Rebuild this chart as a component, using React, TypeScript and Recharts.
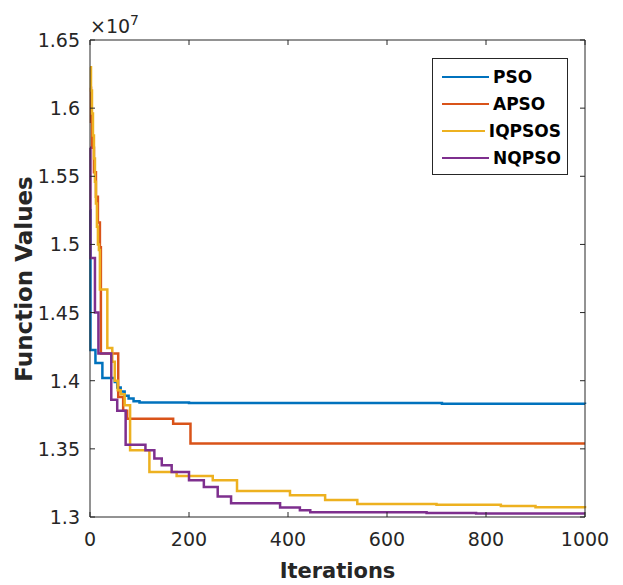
import { LineChart, Line, XAxis, YAxis, Legend } from "recharts";

// values are in units of 1e7
const PSO_ITER = [0, 1, 11, 25, 50, 55, 62, 70, 78, 88, 100, 200, 711, 1000];
const PSO_VAL = [1.525, 1.4225, 1.413, 1.402, 1.399, 1.395, 1.392, 1.389, 1.387, 1.385, 1.384, 1.3836, 1.3831, 1.383];

const APSO_ITER = [0, 2, 4, 8, 12, 16, 20, 22, 57, 67, 75, 168, 203, 1000];
const APSO_VAL = [1.615, 1.59, 1.571, 1.553, 1.535, 1.516, 1.498, 1.42, 1.388, 1.378, 1.372, 1.3685, 1.354, 1.354];

const IQPSOS_ITER = [0, 2, 4, 6, 8, 10, 12, 14, 16, 18, 20, 35, 45, 50, 56, 62, 70, 81, 120, 175, 248, 297, 404, 475, 540, 700, 830, 900, 1000];
const IQPSOS_VAL = [1.63, 1.613, 1.596, 1.58, 1.563, 1.546, 1.53, 1.513, 1.5, 1.496, 1.467, 1.424, 1.414, 1.4, 1.393, 1.39, 1.382, 1.349, 1.333, 1.330, 1.327, 1.319, 1.316, 1.3125, 1.3095, 1.309, 1.308, 1.3072, 1.3065];

const NQPSO_ITER = [0, 1, 10, 17, 43, 55, 72, 112, 130, 145, 165, 200, 230, 258, 285, 384, 424, 445, 680, 780, 1000];
const NQPSO_VAL = [1.571, 1.49, 1.45, 1.42, 1.386, 1.378, 1.353, 1.349, 1.343, 1.338, 1.333, 1.327, 1.322, 1.315, 1.31, 1.307, 1.305, 1.3035, 1.303, 1.3025, 1.3025];

const X_TICKS = [0, 200, 400, 600, 800, 1000];
const Y_TICKS = [1.3, 1.35, 1.4, 1.45, 1.5, 1.55, 1.6, 1.65];

const AXIS = "#262626";
const FONT = "'DejaVu Sans', sans-serif";

const toPoints = (iters: number[], vals: number[]) =>
  iters.map((x, i) => ({ x, y: vals[i] }));

// the last series is plotted against the top/right axes (same domains) so the box is drawn
const SERIES = [
  { name: "PSO", color: "#0072BD", data: toPoints(PSO_ITER, PSO_VAL), xId: 0, yId: 0 },
  { name: "APSO", color: "#D95319", data: toPoints(APSO_ITER, APSO_VAL), xId: 0, yId: 0 },
  { name: "IQPSOS", color: "#EDB120", data: toPoints(IQPSOS_ITER, IQPSOS_VAL), xId: 0, yId: 0 },
  { name: "NQPSO", color: "#7E2F8E", data: toPoints(NQPSO_ITER, NQPSO_VAL), xId: "top", yId: "right" },
];

const BottomTick = (props: any) => {
  const { x, y, payload } = props;
  return (
    <g>
      <line x1={x} x2={x} y1={y} y2={y - 5} stroke={AXIS} />
      <text x={x} y={y + 22} textAnchor="middle" dominantBaseline="central" fill={AXIS} fontSize={19} fontFamily={FONT}>
        {payload.value}
      </text>
    </g>
  );
};

const LeftTick = (props: any) => {
  const { x, y, payload } = props;
  return (
    <g>
      <line x1={x} x2={x + 5} y1={y} y2={y} stroke={AXIS} />
      <text x={x - 10} y={y} textAnchor="end" dominantBaseline="central" fill={AXIS} fontSize={19} fontFamily={FONT}>
        {payload.value}
      </text>
    </g>
  );
};

const TopTick = (props: any) => {
  const { x, y } = props;
  return <line x1={x} x2={x} y1={y} y2={y + 5} stroke={AXIS} />;
};

const RightTick = (props: any) => {
  const { x, y } = props;
  return <line x1={x} x2={x - 5} y1={y} y2={y} stroke={AXIS} />;
};

const LegendBox = () => (
  <div
    style={{
      border: `1px solid ${AXIS}`,
      background: "#fff",
      padding: "4px 6px 3px 9px",
      fontFamily: FONT,
      boxSizing: "border-box",
    }}
  >
    {SERIES.map((s) => (
      <div key={s.name} style={{ display: "flex", alignItems: "center", height: 27 }}>
        <span style={{ width: 47, height: 0, borderTop: `2.5px solid ${s.color}`, marginRight: 4 }} />
        <span style={{ fontWeight: 700, fontSize: 17, color: "#000" }}>{s.name}</span>
      </div>
    ))}
  </div>
);

export default function App() {
  return (
    <div style={{ width: 615, height: 577, fontFamily: FONT }}>
      <LineChart width={615} height={577} margin={{ top: 31, right: 37, bottom: 0, left: 0 }}>
        <XAxis
          dataKey="x"
          type="number"
          domain={[0, 1000]}
          ticks={X_TICKS}
          interval={0}
          height={68}
          tickSize={0}
          tickMargin={0}
          tick={<BottomTick />}
          stroke={AXIS}
          label={{
            content: () => (
              <text x={329.5} y={570} textAnchor="middle" fill={AXIS} fontSize={21} fontWeight={700} fontFamily={FONT}>
                Iterations
              </text>
            ),
          }}
        />
        <XAxis
          xAxisId="top"
          dataKey="x"
          orientation="top"
          type="number"
          domain={[0, 1000]}
          ticks={X_TICKS}
          interval={0}
          height={1}
          tickSize={0}
          tickMargin={0}
          tick={<TopTick />}
          stroke={AXIS}
          label={{
            content: () => (
              <text x={82} y={25} fill={AXIS} fontSize={19} fontFamily={FONT}>
                <tspan>×10</tspan>
                <tspan dy={-8} fontSize={14}>7</tspan>
              </text>
            ),
          }}
        />
        <YAxis
          type="number"
          domain={[1.3, 1.65]}
          ticks={Y_TICKS}
          interval={0}
          width={82}
          tickSize={0}
          tickMargin={0}
          tick={<LeftTick />}
          stroke={AXIS}
          label={{
            content: () => (
              <text
                x={24}
                y={271}
                transform="rotate(-90 24 271)"
                textAnchor="middle"
                fill={AXIS}
                fontSize={23}
                fontWeight={700}
                fontFamily={FONT}
              >
                Function Values
              </text>
            ),
          }}
        />
        <YAxis
          yAxisId="right"
          orientation="right"
          type="number"
          domain={[1.3, 1.65]}
          ticks={Y_TICKS}
          interval={0}
          width={1}
          tickSize={0}
          tickMargin={0}
          tick={<RightTick />}
          stroke={AXIS}
        />
        {SERIES.map((s) => (
          <Line
            key={s.name}
            xAxisId={s.xId}
            yAxisId={s.yId}
            data={s.data}
            dataKey="y"
            name={s.name}
            type="stepAfter"
            stroke={s.color}
            strokeWidth={2.5}
            dot={false}
            activeDot={false}
            isAnimationActive={false}
          />
        ))}
        <Legend
          layout="vertical"
          align="center"
          verticalAlign="middle"
          content={<LegendBox />}
          wrapperStyle={{ left: 424, top: 50, width: 136 }}
        />
      </LineChart>
    </div>
  );
}
